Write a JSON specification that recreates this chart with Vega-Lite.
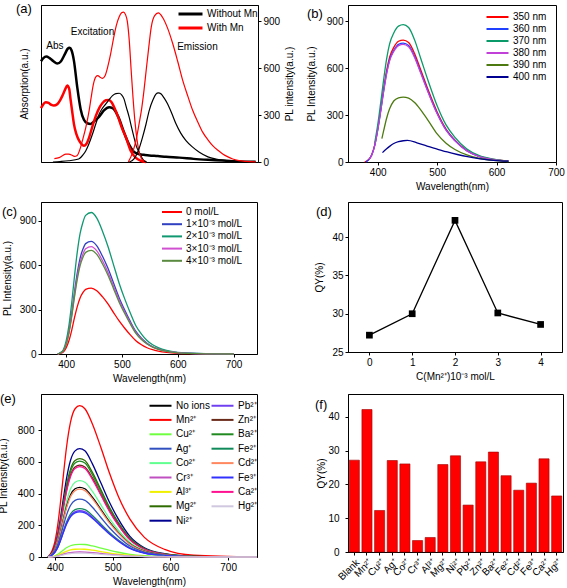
{
"$schema":"https://vega.github.io/schema/vega-lite/v6.json",
"padding":{"left":-3,"top":2,"right":0,"bottom":0},
"background":"white",
"config":{
 "font":"Liberation Sans",
 "view":{"stroke":"black","strokeWidth":1},
 "axis":{"domainColor":"black","tickColor":"black","labelColor":"black","titleColor":"black","labelFont":"Liberation Sans","titleFont":"Liberation Sans","labelFontSize":10,"titleFontSize":10,"titleFontWeight":"normal","grid":false,"tickSize":3,"labelPadding":2,"labelFlush":false,"titlePadding":4},
 "legend":{"labelFont":"Liberation Sans","labelFontSize":10,"labelColor":"black","title":null,"symbolType":"M-2,0H2","symbolStrokeWidth":2,"orient":"none","padding":0,"rowPadding":1,"symbolOffset":6,"labelOffset":9},
 "title":{"font":"Liberation Sans","fontSize":13,"fontWeight":"normal","anchor":"start","frame":"group","baseline":"middle","color":"black","offset":0},
 "line":{"interpolate":"monotone"}
},
"datasets":{
 "a":[
 {"s":"Without Mn","k":"abs","x":200,"y":645},{"s":"Without Mn","k":"abs","x":205,"y":665},{"s":"Without Mn","k":"abs","x":211,"y":675},{"s":"Without Mn","k":"abs","x":218,"y":665},{"s":"Without Mn","k":"abs","x":226,"y":645},{"s":"Without Mn","k":"abs","x":234,"y":630},{"s":"Without Mn","k":"abs","x":242,"y":645},{"s":"Without Mn","k":"abs","x":250,"y":690},{"s":"Without Mn","k":"abs","x":256,"y":725},{"s":"Without Mn","k":"abs","x":260,"y":731},{"s":"Without Mn","k":"abs","x":264,"y":715},{"s":"Without Mn","k":"abs","x":269,"y":649},{"s":"Without Mn","k":"abs","x":276,"y":479},{"s":"Without Mn","k":"abs","x":283,"y":340},{"s":"Without Mn","k":"abs","x":290,"y":270},{"s":"Without Mn","k":"abs","x":297,"y":248},{"s":"Without Mn","k":"abs","x":304,"y":244},{"s":"Without Mn","k":"abs","x":312,"y":262},{"s":"Without Mn","k":"abs","x":322,"y":290},{"s":"Without Mn","k":"abs","x":332,"y":330},{"s":"Without Mn","k":"abs","x":343,"y":350},{"s":"Without Mn","k":"abs","x":350,"y":345},{"s":"Without Mn","k":"abs","x":356,"y":325},{"s":"Without Mn","k":"abs","x":364,"y":275},{"s":"Without Mn","k":"abs","x":374,"y":190},{"s":"Without Mn","k":"abs","x":385,"y":110},{"s":"Without Mn","k":"abs","x":395,"y":65},{"s":"Without Mn","k":"abs","x":406,"y":50},{"s":"Without Mn","k":"abs","x":416,"y":46},{"s":"Without Mn","k":"abs","x":427,"y":42},{"s":"Without Mn","k":"abs","x":445,"y":38},{"s":"Without Mn","k":"abs","x":462,"y":33},{"s":"Without Mn","k":"abs","x":490,"y":28},{"s":"Without Mn","k":"abs","x":520,"y":20},{"s":"Without Mn","k":"abs","x":550,"y":14},{"s":"Without Mn","k":"abs","x":580,"y":9},{"s":"Without Mn","k":"abs","x":601,"y":5},{"s":"Without Mn","k":"abs","x":630,"y":2},{"s":"Without Mn","k":"abs","x":650,"y":1},
 {"s":"With Mn","k":"abs","x":200,"y":345},{"s":"With Mn","k":"abs","x":205,"y":370},{"s":"With Mn","k":"abs","x":210,"y":383},{"s":"With Mn","k":"abs","x":216,"y":378},{"s":"With Mn","k":"abs","x":222,"y":365},{"s":"With Mn","k":"abs","x":227,"y":361},{"s":"With Mn","k":"abs","x":234,"y":370},{"s":"With Mn","k":"abs","x":240,"y":395},{"s":"With Mn","k":"abs","x":245,"y":425},{"s":"With Mn","k":"abs","x":250,"y":460},{"s":"With Mn","k":"abs","x":255,"y":489},{"s":"With Mn","k":"abs","x":259,"y":470},{"s":"With Mn","k":"abs","x":262,"y":400},{"s":"With Mn","k":"abs","x":266,"y":310},{"s":"With Mn","k":"abs","x":269,"y":244},{"s":"With Mn","k":"abs","x":274,"y":180},{"s":"With Mn","k":"abs","x":280,"y":137},{"s":"With Mn","k":"abs","x":285,"y":115},{"s":"With Mn","k":"abs","x":290,"y":104},{"s":"With Mn","k":"abs","x":295,"y":115},{"s":"With Mn","k":"abs","x":301,"y":158},{"s":"With Mn","k":"abs","x":308,"y":230},{"s":"With Mn","k":"abs","x":315,"y":295},{"s":"With Mn","k":"abs","x":322,"y":345},{"s":"With Mn","k":"abs","x":329,"y":378},{"s":"With Mn","k":"abs","x":336,"y":395},{"s":"With Mn","k":"abs","x":342,"y":397},{"s":"With Mn","k":"abs","x":348,"y":383},{"s":"With Mn","k":"abs","x":355,"y":340},{"s":"With Mn","k":"abs","x":362,"y":286},{"s":"With Mn","k":"abs","x":370,"y":215},{"s":"With Mn","k":"abs","x":378,"y":158},{"s":"With Mn","k":"abs","x":388,"y":72},{"s":"With Mn","k":"abs","x":399,"y":26},{"s":"With Mn","k":"abs","x":409,"y":8},{"s":"With Mn","k":"abs","x":420,"y":0},
 {"s":"Without Mn","k":"exc","x":225,"y":0},{"s":"Without Mn","k":"exc","x":240,"y":3},{"s":"Without Mn","k":"exc","x":258,"y":8},{"s":"Without Mn","k":"exc","x":279,"y":19},{"s":"Without Mn","k":"exc","x":288,"y":45},{"s":"Without Mn","k":"exc","x":294,"y":72},{"s":"Without Mn","k":"exc","x":301,"y":120},{"s":"Without Mn","k":"exc","x":308,"y":179},{"s":"Without Mn","k":"exc","x":315,"y":245},{"s":"Without Mn","k":"exc","x":322,"y":308},{"s":"Without Mn","k":"exc","x":329,"y":345},{"s":"Without Mn","k":"exc","x":336,"y":372},{"s":"Without Mn","k":"exc","x":343,"y":400},{"s":"Without Mn","k":"exc","x":350,"y":425},{"s":"Without Mn","k":"exc","x":357,"y":438},{"s":"Without Mn","k":"exc","x":364,"y":440},{"s":"Without Mn","k":"exc","x":369,"y":430},{"s":"Without Mn","k":"exc","x":374,"y":404},{"s":"Without Mn","k":"exc","x":379,"y":350},{"s":"Without Mn","k":"exc","x":385,"y":286},{"s":"Without Mn","k":"exc","x":390,"y":220},{"s":"Without Mn","k":"exc","x":395,"y":158},{"s":"Without Mn","k":"exc","x":400,"y":100},{"s":"Without Mn","k":"exc","x":406,"y":62},{"s":"Without Mn","k":"exc","x":411,"y":30},{"s":"Without Mn","k":"exc","x":416,"y":8},{"s":"Without Mn","k":"exc","x":422,"y":0},
 {"s":"With Mn","k":"exc","x":228,"y":22},{"s":"With Mn","k":"exc","x":238,"y":28},{"s":"With Mn","k":"exc","x":245,"y":40},{"s":"With Mn","k":"exc","x":252,"y":51},{"s":"With Mn","k":"exc","x":258,"y":50},{"s":"With Mn","k":"exc","x":264,"y":45},{"s":"With Mn","k":"exc","x":270,"y":36},{"s":"With Mn","k":"exc","x":276,"y":42},{"s":"With Mn","k":"exc","x":283,"y":94},{"s":"With Mn","k":"exc","x":288,"y":150},{"s":"With Mn","k":"exc","x":294,"y":222},{"s":"With Mn","k":"exc","x":301,"y":330},{"s":"With Mn","k":"exc","x":305,"y":410},{"s":"With Mn","k":"exc","x":310,"y":500},{"s":"With Mn","k":"exc","x":315,"y":545},{"s":"With Mn","k":"exc","x":319,"y":553},{"s":"With Mn","k":"exc","x":324,"y":543},{"s":"With Mn","k":"exc","x":329,"y":535},{"s":"With Mn","k":"exc","x":334,"y":550},{"s":"With Mn","k":"exc","x":340,"y":610},{"s":"With Mn","k":"exc","x":346,"y":692},{"s":"With Mn","k":"exc","x":352,"y":790},{"s":"With Mn","k":"exc","x":358,"y":875},{"s":"With Mn","k":"exc","x":364,"y":930},{"s":"With Mn","k":"exc","x":369,"y":955},{"s":"With Mn","k":"exc","x":373,"y":960},{"s":"With Mn","k":"exc","x":377,"y":945},{"s":"With Mn","k":"exc","x":381,"y":900},{"s":"With Mn","k":"exc","x":385,"y":780},{"s":"With Mn","k":"exc","x":389,"y":590},{"s":"With Mn","k":"exc","x":393,"y":410},{"s":"With Mn","k":"exc","x":397,"y":260},{"s":"With Mn","k":"exc","x":401,"y":150},{"s":"With Mn","k":"exc","x":405,"y":75},{"s":"With Mn","k":"exc","x":410,"y":25},{"s":"With Mn","k":"exc","x":416,"y":4},
 {"s":"Without Mn","k":"em","x":385,"y":0},{"s":"Without Mn","k":"em","x":395,"y":20},{"s":"Without Mn","k":"em","x":405,"y":80},{"s":"Without Mn","k":"em","x":413,"y":159},{"s":"Without Mn","k":"em","x":420,"y":240},{"s":"Without Mn","k":"em","x":427,"y":331},{"s":"Without Mn","k":"em","x":435,"y":400},{"s":"Without Mn","k":"em","x":441,"y":435},{"s":"Without Mn","k":"em","x":446,"y":443},{"s":"Without Mn","k":"em","x":452,"y":435},{"s":"Without Mn","k":"em","x":458,"y":410},{"s":"Without Mn","k":"em","x":465,"y":374},{"s":"Without Mn","k":"em","x":475,"y":305},{"s":"Without Mn","k":"em","x":483,"y":245},{"s":"Without Mn","k":"em","x":493,"y":185},{"s":"Without Mn","k":"em","x":504,"y":137},{"s":"Without Mn","k":"em","x":518,"y":95},{"s":"Without Mn","k":"em","x":532,"y":62},{"s":"Without Mn","k":"em","x":550,"y":33},{"s":"Without Mn","k":"em","x":567,"y":19},{"s":"Without Mn","k":"em","x":585,"y":10},{"s":"Without Mn","k":"em","x":602,"y":5},{"s":"Without Mn","k":"em","x":630,"y":1},{"s":"Without Mn","k":"em","x":650,"y":0},
 {"s":"With Mn","k":"em","x":383,"y":0},{"s":"With Mn","k":"em","x":392,"y":60},{"s":"With Mn","k":"em","x":400,"y":150},{"s":"With Mn","k":"em","x":406,"y":250},{"s":"With Mn","k":"em","x":411,"y":340},{"s":"With Mn","k":"em","x":416,"y":460},{"s":"With Mn","k":"em","x":421,"y":600},{"s":"With Mn","k":"em","x":426,"y":735},{"s":"With Mn","k":"em","x":431,"y":860},{"s":"With Mn","k":"em","x":438,"y":935},{"s":"With Mn","k":"em","x":446,"y":954},{"s":"With Mn","k":"em","x":455,"y":925},{"s":"With Mn","k":"em","x":465,"y":860},{"s":"With Mn","k":"em","x":476,"y":760},{"s":"With Mn","k":"em","x":487,"y":640},{"s":"With Mn","k":"em","x":497,"y":524},{"s":"With Mn","k":"em","x":508,"y":420},{"s":"With Mn","k":"em","x":518,"y":331},{"s":"With Mn","k":"em","x":529,"y":255},{"s":"With Mn","k":"em","x":539,"y":191},{"s":"With Mn","k":"em","x":550,"y":142},{"s":"With Mn","k":"em","x":560,"y":105},{"s":"With Mn","k":"em","x":571,"y":75},{"s":"With Mn","k":"em","x":581,"y":52},{"s":"With Mn","k":"em","x":592,"y":33},{"s":"With Mn","k":"em","x":602,"y":19},{"s":"With Mn","k":"em","x":615,"y":9},{"s":"With Mn","k":"em","x":630,"y":4},{"s":"With Mn","k":"em","x":650,"y":1}
 ],
 "ann":[{"t":"Abs","x":229,"y":745},{"t":"Excitation","x":308,"y":830},{"t":"Emission","x":528,"y":735}],
 "b":[
 {"s":"350 nm","x":378,"y":0},{"s":"350 nm","x":385,"y":16},{"s":"350 nm","x":390,"y":47},{"s":"350 nm","x":395,"y":109},{"s":"350 nm","x":400,"y":211},{"s":"350 nm","x":405,"y":335},{"s":"350 nm","x":410,"y":468},{"s":"350 nm","x":415,"y":585},{"s":"350 nm","x":420,"y":671},{"s":"350 nm","x":427,"y":733},{"s":"350 nm","x":435,"y":772},{"s":"350 nm","x":443,"y":780},{"s":"350 nm","x":452,"y":764},{"s":"350 nm","x":462,"y":694},{"s":"350 nm","x":472,"y":593},{"s":"350 nm","x":485,"y":460},{"s":"350 nm","x":500,"y":320},{"s":"350 nm","x":515,"y":211},{"s":"350 nm","x":530,"y":140},{"s":"350 nm","x":550,"y":74},{"s":"350 nm","x":570,"y":37},{"s":"350 nm","x":595,"y":16},{"s":"350 nm","x":620,"y":5},
 {"s":"360 nm","x":380,"y":0},{"s":"360 nm","x":385,"y":15},{"s":"360 nm","x":390,"y":46},{"s":"360 nm","x":395,"y":106},{"s":"360 nm","x":400,"y":205},{"s":"360 nm","x":405,"y":327},{"s":"360 nm","x":410,"y":456},{"s":"360 nm","x":415,"y":570},{"s":"360 nm","x":420,"y":654},{"s":"360 nm","x":427,"y":714},{"s":"360 nm","x":435,"y":752},{"s":"360 nm","x":443,"y":760},{"s":"360 nm","x":452,"y":745},{"s":"360 nm","x":462,"y":676},{"s":"360 nm","x":472,"y":578},{"s":"360 nm","x":485,"y":448},{"s":"360 nm","x":500,"y":312},{"s":"360 nm","x":515,"y":205},{"s":"360 nm","x":530,"y":137},{"s":"360 nm","x":550,"y":72},{"s":"360 nm","x":570,"y":36},{"s":"360 nm","x":595,"y":15},{"s":"360 nm","x":620,"y":5},
 {"s":"370 nm","x":395,"y":123},{"s":"370 nm","x":400,"y":237},{"s":"370 nm","x":405,"y":378},{"s":"370 nm","x":410,"y":527},{"s":"370 nm","x":415,"y":659},{"s":"370 nm","x":420,"y":755},{"s":"370 nm","x":427,"y":825},{"s":"370 nm","x":435,"y":869},{"s":"370 nm","x":443,"y":878},{"s":"370 nm","x":452,"y":860},{"s":"370 nm","x":462,"y":781},{"s":"370 nm","x":472,"y":667},{"s":"370 nm","x":485,"y":518},{"s":"370 nm","x":500,"y":360},{"s":"370 nm","x":515,"y":237},{"s":"370 nm","x":530,"y":158},{"s":"370 nm","x":550,"y":83},{"s":"370 nm","x":570,"y":42},{"s":"370 nm","x":595,"y":18},{"s":"370 nm","x":620,"y":6},
 {"s":"380 nm","x":385,"y":15},{"s":"380 nm","x":390,"y":45},{"s":"380 nm","x":395,"y":105},{"s":"380 nm","x":400,"y":203},{"s":"380 nm","x":405,"y":323},{"s":"380 nm","x":410,"y":451},{"s":"380 nm","x":415,"y":564},{"s":"380 nm","x":420,"y":647},{"s":"380 nm","x":427,"y":707},{"s":"380 nm","x":435,"y":744},{"s":"380 nm","x":443,"y":752},{"s":"380 nm","x":452,"y":737},{"s":"380 nm","x":462,"y":669},{"s":"380 nm","x":472,"y":572},{"s":"380 nm","x":485,"y":444},{"s":"380 nm","x":500,"y":308},{"s":"380 nm","x":515,"y":203},{"s":"380 nm","x":530,"y":135},{"s":"380 nm","x":550,"y":71},{"s":"380 nm","x":570,"y":36},{"s":"380 nm","x":595,"y":15},{"s":"380 nm","x":620,"y":5},
 {"s":"390 nm","x":407,"y":150},{"s":"390 nm","x":410,"y":200},{"s":"390 nm","x":415,"y":280},{"s":"390 nm","x":420,"y":340},{"s":"390 nm","x":427,"y":390},{"s":"390 nm","x":435,"y":410},{"s":"390 nm","x":443,"y":415},{"s":"390 nm","x":452,"y":408},{"s":"390 nm","x":462,"y":380},{"s":"390 nm","x":472,"y":335},{"s":"390 nm","x":485,"y":265},{"s":"390 nm","x":500,"y":180},{"s":"390 nm","x":515,"y":120},{"s":"390 nm","x":530,"y":80},{"s":"390 nm","x":550,"y":45},{"s":"390 nm","x":570,"y":24},{"s":"390 nm","x":595,"y":10},{"s":"390 nm","x":620,"y":3},
 {"s":"400 nm","x":408,"y":60},{"s":"400 nm","x":415,"y":85},{"s":"400 nm","x":420,"y":100},{"s":"400 nm","x":427,"y":118},{"s":"400 nm","x":435,"y":130},{"s":"400 nm","x":443,"y":136},{"s":"400 nm","x":450,"y":138},{"s":"400 nm","x":466,"y":123},{"s":"400 nm","x":483,"y":102},{"s":"400 nm","x":500,"y":83},{"s":"400 nm","x":517,"y":64},{"s":"400 nm","x":534,"y":48},{"s":"400 nm","x":551,"y":34},{"s":"400 nm","x":570,"y":22},{"s":"400 nm","x":595,"y":11},{"s":"400 nm","x":620,"y":5}
 ],
 "c":[
 {"s":"0 mol/L","x":385,"y":0},{"s":"0 mol/L","x":390,"y":4},{"s":"0 mol/L","x":395,"y":13},{"s":"0 mol/L","x":400,"y":40},{"s":"0 mol/L","x":405,"y":89},{"s":"0 mol/L","x":410,"y":160},{"s":"0 mol/L","x":415,"y":245},{"s":"0 mol/L","x":420,"y":320},{"s":"0 mol/L","x":425,"y":378},{"s":"0 mol/L","x":430,"y":414},{"s":"0 mol/L","x":435,"y":436},{"s":"0 mol/L","x":445,"y":445},{"s":"0 mol/L","x":455,"y":427},{"s":"0 mol/L","x":465,"y":387},{"s":"0 mol/L","x":475,"y":338},{"s":"0 mol/L","x":485,"y":280},{"s":"0 mol/L","x":495,"y":223},{"s":"0 mol/L","x":505,"y":174},{"s":"0 mol/L","x":515,"y":129},{"s":"0 mol/L","x":525,"y":89},{"s":"0 mol/L","x":535,"y":62},{"s":"0 mol/L","x":545,"y":42},{"s":"0 mol/L","x":555,"y":29},{"s":"0 mol/L","x":565,"y":20},{"s":"0 mol/L","x":580,"y":11},{"s":"0 mol/L","x":600,"y":5},{"s":"0 mol/L","x":620,"y":3},{"s":"0 mol/L","x":650,"y":1},{"s":"0 mol/L","x":700,"y":0},
 {"s":"1×10⁻³ mol/L","x":385,"y":0},{"s":"1×10⁻³ mol/L","x":390,"y":8},{"s":"1×10⁻³ mol/L","x":395,"y":23},{"s":"1×10⁻³ mol/L","x":400,"y":68},{"s":"1×10⁻³ mol/L","x":405,"y":152},{"s":"1×10⁻³ mol/L","x":410,"y":274},{"s":"1×10⁻³ mol/L","x":415,"y":418},{"s":"1×10⁻³ mol/L","x":420,"y":547},{"s":"1×10⁻³ mol/L","x":425,"y":646},{"s":"1×10⁻³ mol/L","x":430,"y":707},{"s":"1×10⁻³ mol/L","x":435,"y":745},{"s":"1×10⁻³ mol/L","x":445,"y":760},{"s":"1×10⁻³ mol/L","x":455,"y":730},{"s":"1×10⁻³ mol/L","x":465,"y":661},{"s":"1×10⁻³ mol/L","x":475,"y":578},{"s":"1×10⁻³ mol/L","x":485,"y":479},{"s":"1×10⁻³ mol/L","x":495,"y":380},{"s":"1×10⁻³ mol/L","x":505,"y":296},{"s":"1×10⁻³ mol/L","x":515,"y":220},{"s":"1×10⁻³ mol/L","x":525,"y":152},{"s":"1×10⁻³ mol/L","x":535,"y":106},{"s":"1×10⁻³ mol/L","x":545,"y":72},{"s":"1×10⁻³ mol/L","x":555,"y":49},{"s":"1×10⁻³ mol/L","x":565,"y":34},{"s":"1×10⁻³ mol/L","x":580,"y":19},{"s":"1×10⁻³ mol/L","x":600,"y":9},{"s":"1×10⁻³ mol/L","x":620,"y":5},{"s":"1×10⁻³ mol/L","x":650,"y":2},{"s":"1×10⁻³ mol/L","x":700,"y":0},
 {"s":"2×10⁻³ mol/L","x":385,"y":0},{"s":"2×10⁻³ mol/L","x":390,"y":10},{"s":"2×10⁻³ mol/L","x":395,"y":29},{"s":"2×10⁻³ mol/L","x":400,"y":86},{"s":"2×10⁻³ mol/L","x":405,"y":191},{"s":"2×10⁻³ mol/L","x":410,"y":344},{"s":"2×10⁻³ mol/L","x":415,"y":525},{"s":"2×10⁻³ mol/L","x":420,"y":688},{"s":"2×10⁻³ mol/L","x":425,"y":812},{"s":"2×10⁻³ mol/L","x":430,"y":888},{"s":"2×10⁻³ mol/L","x":435,"y":936},{"s":"2×10⁻³ mol/L","x":445,"y":955},{"s":"2×10⁻³ mol/L","x":455,"y":917},{"s":"2×10⁻³ mol/L","x":465,"y":831},{"s":"2×10⁻³ mol/L","x":475,"y":726},{"s":"2×10⁻³ mol/L","x":485,"y":602},{"s":"2×10⁻³ mol/L","x":495,"y":478},{"s":"2×10⁻³ mol/L","x":505,"y":372},{"s":"2×10⁻³ mol/L","x":515,"y":277},{"s":"2×10⁻³ mol/L","x":525,"y":191},{"s":"2×10⁻³ mol/L","x":535,"y":134},{"s":"2×10⁻³ mol/L","x":545,"y":91},{"s":"2×10⁻³ mol/L","x":555,"y":62},{"s":"2×10⁻³ mol/L","x":565,"y":43},{"s":"2×10⁻³ mol/L","x":580,"y":24},{"s":"2×10⁻³ mol/L","x":600,"y":11},{"s":"2×10⁻³ mol/L","x":620,"y":6},{"s":"2×10⁻³ mol/L","x":650,"y":2},{"s":"2×10⁻³ mol/L","x":700,"y":0},
 {"s":"3×10⁻³ mol/L","x":385,"y":0},{"s":"3×10⁻³ mol/L","x":390,"y":7},{"s":"3×10⁻³ mol/L","x":395,"y":22},{"s":"3×10⁻³ mol/L","x":400,"y":65},{"s":"3×10⁻³ mol/L","x":405,"y":145},{"s":"3×10⁻³ mol/L","x":410,"y":261},{"s":"3×10⁻³ mol/L","x":415,"y":399},{"s":"3×10⁻³ mol/L","x":420,"y":522},{"s":"3×10⁻³ mol/L","x":425,"y":616},{"s":"3×10⁻³ mol/L","x":430,"y":674},{"s":"3×10⁻³ mol/L","x":435,"y":711},{"s":"3×10⁻³ mol/L","x":445,"y":725},{"s":"3×10⁻³ mol/L","x":455,"y":696},{"s":"3×10⁻³ mol/L","x":465,"y":631},{"s":"3×10⁻³ mol/L","x":475,"y":551},{"s":"3×10⁻³ mol/L","x":485,"y":457},{"s":"3×10⁻³ mol/L","x":495,"y":363},{"s":"3×10⁻³ mol/L","x":505,"y":283},{"s":"3×10⁻³ mol/L","x":515,"y":210},{"s":"3×10⁻³ mol/L","x":525,"y":145},{"s":"3×10⁻³ mol/L","x":535,"y":102},{"s":"3×10⁻³ mol/L","x":545,"y":69},{"s":"3×10⁻³ mol/L","x":555,"y":47},{"s":"3×10⁻³ mol/L","x":565,"y":33},{"s":"3×10⁻³ mol/L","x":580,"y":18},{"s":"3×10⁻³ mol/L","x":600,"y":9},{"s":"3×10⁻³ mol/L","x":620,"y":4},{"s":"3×10⁻³ mol/L","x":650,"y":1},{"s":"3×10⁻³ mol/L","x":700,"y":0},
 {"s":"4×10⁻³ mol/L","x":385,"y":0},{"s":"4×10⁻³ mol/L","x":390,"y":7},{"s":"4×10⁻³ mol/L","x":395,"y":21},{"s":"4×10⁻³ mol/L","x":400,"y":63},{"s":"4×10⁻³ mol/L","x":405,"y":140},{"s":"4×10⁻³ mol/L","x":410,"y":252},{"s":"4×10⁻³ mol/L","x":415,"y":385},{"s":"4×10⁻³ mol/L","x":420,"y":504},{"s":"4×10⁻³ mol/L","x":425,"y":595},{"s":"4×10⁻³ mol/L","x":430,"y":651},{"s":"4×10⁻³ mol/L","x":435,"y":686},{"s":"4×10⁻³ mol/L","x":445,"y":700},{"s":"4×10⁻³ mol/L","x":455,"y":672},{"s":"4×10⁻³ mol/L","x":465,"y":609},{"s":"4×10⁻³ mol/L","x":475,"y":532},{"s":"4×10⁻³ mol/L","x":485,"y":441},{"s":"4×10⁻³ mol/L","x":495,"y":350},{"s":"4×10⁻³ mol/L","x":505,"y":273},{"s":"4×10⁻³ mol/L","x":515,"y":203},{"s":"4×10⁻³ mol/L","x":525,"y":140},{"s":"4×10⁻³ mol/L","x":535,"y":98},{"s":"4×10⁻³ mol/L","x":545,"y":67},{"s":"4×10⁻³ mol/L","x":555,"y":46},{"s":"4×10⁻³ mol/L","x":565,"y":32},{"s":"4×10⁻³ mol/L","x":580,"y":18},{"s":"4×10⁻³ mol/L","x":600,"y":8},{"s":"4×10⁻³ mol/L","x":620,"y":4},{"s":"4×10⁻³ mol/L","x":650,"y":1},{"s":"4×10⁻³ mol/L","x":700,"y":0}
 ],
 "d":[{"x":0,"y":27.2},{"x":1,"y":30.0},{"x":2,"y":42.2},{"x":3,"y":30.1},{"x":4,"y":28.6}],
 "e":[
 {"s":"Mn²⁺","x":388,"y":0},{"s":"Mn²⁺","x":395,"y":38},{"s":"Mn²⁺","x":400,"y":96},{"s":"Mn²⁺","x":405,"y":201},{"s":"Mn²⁺","x":410,"y":353},{"s":"Mn²⁺","x":415,"y":525},{"s":"Mn²⁺","x":420,"y":688},{"s":"Mn²⁺","x":427,"y":850},{"s":"Mn²⁺","x":435,"y":936},{"s":"Mn²⁺","x":443,"y":955},{"s":"Mn²⁺","x":452,"y":936},{"s":"Mn²⁺","x":465,"y":840},{"s":"Mn²⁺","x":480,"y":688},{"s":"Mn²⁺","x":495,"y":525},{"s":"Mn²⁺","x":510,"y":382},{"s":"Mn²⁺","x":530,"y":239},{"s":"Mn²⁺","x":555,"y":124},{"s":"Mn²⁺","x":590,"y":48},{"s":"Mn²⁺","x":640,"y":11},{"s":"Mn²⁺","x":750,"y":0},
 {"s":"Ni²⁺","x":388,"y":0},{"s":"Ni²⁺","x":395,"y":27},{"s":"Ni²⁺","x":400,"y":68},{"s":"Ni²⁺","x":405,"y":144},{"s":"Ni²⁺","x":410,"y":253},{"s":"Ni²⁺","x":415,"y":376},{"s":"Ni²⁺","x":420,"y":492},{"s":"Ni²⁺","x":427,"y":609},{"s":"Ni²⁺","x":435,"y":670},{"s":"Ni²⁺","x":443,"y":684},{"s":"Ni²⁺","x":452,"y":670},{"s":"Ni²⁺","x":465,"y":588},{"s":"Ni²⁺","x":480,"y":465},{"s":"Ni²⁺","x":495,"y":342},{"s":"Ni²⁺","x":510,"y":239},{"s":"Ni²⁺","x":530,"y":130},{"s":"Ni²⁺","x":555,"y":58},{"s":"Ni²⁺","x":590,"y":21},{"s":"Ni²⁺","x":640,"y":4},{"s":"Ni²⁺","x":750,"y":0},
 {"s":"Mg²⁺","x":388,"y":0},{"s":"Mg²⁺","x":395,"y":25},{"s":"Mg²⁺","x":400,"y":62},{"s":"Mg²⁺","x":405,"y":130},{"s":"Mg²⁺","x":410,"y":230},{"s":"Mg²⁺","x":415,"y":342},{"s":"Mg²⁺","x":420,"y":447},{"s":"Mg²⁺","x":427,"y":553},{"s":"Mg²⁺","x":435,"y":609},{"s":"Mg²⁺","x":443,"y":621},{"s":"Mg²⁺","x":452,"y":609},{"s":"Mg²⁺","x":465,"y":534},{"s":"Mg²⁺","x":480,"y":422},{"s":"Mg²⁺","x":495,"y":311},{"s":"Mg²⁺","x":510,"y":217},{"s":"Mg²⁺","x":530,"y":118},{"s":"Mg²⁺","x":555,"y":53},{"s":"Mg²⁺","x":590,"y":19},{"s":"Mg²⁺","x":640,"y":4},{"s":"Mg²⁺","x":750,"y":0},
 {"s":"Ba²⁺","x":388,"y":0},{"s":"Ba²⁺","x":395,"y":24},{"s":"Ba²⁺","x":400,"y":61},{"s":"Ba²⁺","x":405,"y":127},{"s":"Ba²⁺","x":410,"y":224},{"s":"Ba²⁺","x":415,"y":333},{"s":"Ba²⁺","x":420,"y":436},{"s":"Ba²⁺","x":427,"y":538},{"s":"Ba²⁺","x":435,"y":593},{"s":"Ba²⁺","x":443,"y":605},{"s":"Ba²⁺","x":452,"y":593},{"s":"Ba²⁺","x":465,"y":520},{"s":"Ba²⁺","x":480,"y":411},{"s":"Ba²⁺","x":495,"y":303},{"s":"Ba²⁺","x":510,"y":212},{"s":"Ba²⁺","x":530,"y":115},{"s":"Ba²⁺","x":555,"y":51},{"s":"Ba²⁺","x":590,"y":18},{"s":"Ba²⁺","x":640,"y":4},{"s":"Ba²⁺","x":750,"y":0},
 {"s":"Zn²⁺","x":388,"y":0},{"s":"Zn²⁺","x":395,"y":23},{"s":"Zn²⁺","x":400,"y":58},{"s":"Zn²⁺","x":405,"y":122},{"s":"Zn²⁺","x":410,"y":215},{"s":"Zn²⁺","x":415,"y":319},{"s":"Zn²⁺","x":420,"y":418},{"s":"Zn²⁺","x":427,"y":516},{"s":"Zn²⁺","x":435,"y":568},{"s":"Zn²⁺","x":443,"y":580},{"s":"Zn²⁺","x":452,"y":568},{"s":"Zn²⁺","x":465,"y":499},{"s":"Zn²⁺","x":480,"y":394},{"s":"Zn²⁺","x":495,"y":290},{"s":"Zn²⁺","x":510,"y":203},{"s":"Zn²⁺","x":530,"y":110},{"s":"Zn²⁺","x":555,"y":49},{"s":"Zn²⁺","x":590,"y":17},{"s":"Zn²⁺","x":640,"y":3},{"s":"Zn²⁺","x":750,"y":0},
 {"s":"Ca²⁺","x":388,"y":0},{"s":"Ca²⁺","x":395,"y":23},{"s":"Ca²⁺","x":400,"y":57},{"s":"Ca²⁺","x":405,"y":120},{"s":"Ca²⁺","x":410,"y":211},{"s":"Ca²⁺","x":415,"y":314},{"s":"Ca²⁺","x":420,"y":410},{"s":"Ca²⁺","x":427,"y":507},{"s":"Ca²⁺","x":435,"y":559},{"s":"Ca²⁺","x":443,"y":570},{"s":"Ca²⁺","x":452,"y":559},{"s":"Ca²⁺","x":465,"y":490},{"s":"Ca²⁺","x":480,"y":388},{"s":"Ca²⁺","x":495,"y":285},{"s":"Ca²⁺","x":510,"y":200},{"s":"Ca²⁺","x":530,"y":108},{"s":"Ca²⁺","x":555,"y":48},{"s":"Ca²⁺","x":590,"y":17},{"s":"Ca²⁺","x":640,"y":3},{"s":"Ca²⁺","x":750,"y":0},
 {"s":"Co²⁺","x":388,"y":0},{"s":"Co²⁺","x":395,"y":19},{"s":"Co²⁺","x":400,"y":48},{"s":"Co²⁺","x":405,"y":101},{"s":"Co²⁺","x":410,"y":178},{"s":"Co²⁺","x":415,"y":265},{"s":"Co²⁺","x":420,"y":347},{"s":"Co²⁺","x":427,"y":429},{"s":"Co²⁺","x":435,"y":472},{"s":"Co²⁺","x":443,"y":482},{"s":"Co²⁺","x":452,"y":472},{"s":"Co²⁺","x":465,"y":415},{"s":"Co²⁺","x":480,"y":328},{"s":"Co²⁺","x":495,"y":241},{"s":"Co²⁺","x":510,"y":169},{"s":"Co²⁺","x":530,"y":92},{"s":"Co²⁺","x":555,"y":41},{"s":"Co²⁺","x":590,"y":14},{"s":"Co²⁺","x":640,"y":3},{"s":"Co²⁺","x":750,"y":0},
 {"s":"No ions","x":388,"y":0},{"s":"No ions","x":395,"y":18},{"s":"No ions","x":400,"y":44},{"s":"No ions","x":405,"y":92},{"s":"No ions","x":410,"y":163},{"s":"No ions","x":415,"y":242},{"s":"No ions","x":420,"y":317},{"s":"No ions","x":427,"y":392},{"s":"No ions","x":435,"y":431},{"s":"No ions","x":443,"y":440},{"s":"No ions","x":452,"y":431},{"s":"No ions","x":465,"y":378},{"s":"No ions","x":480,"y":299},{"s":"No ions","x":495,"y":220},{"s":"No ions","x":510,"y":154},{"s":"No ions","x":530,"y":84},{"s":"No ions","x":555,"y":37},{"s":"No ions","x":590,"y":13},{"s":"No ions","x":640,"y":3},{"s":"No ions","x":750,"y":0},
 {"s":"Cd²⁺","x":388,"y":0},{"s":"Cd²⁺","x":395,"y":17},{"s":"Cd²⁺","x":400,"y":43},{"s":"Cd²⁺","x":405,"y":90},{"s":"Cd²⁺","x":410,"y":158},{"s":"Cd²⁺","x":415,"y":235},{"s":"Cd²⁺","x":420,"y":308},{"s":"Cd²⁺","x":427,"y":381},{"s":"Cd²⁺","x":435,"y":419},{"s":"Cd²⁺","x":443,"y":428},{"s":"Cd²⁺","x":452,"y":419},{"s":"Cd²⁺","x":465,"y":368},{"s":"Cd²⁺","x":480,"y":291},{"s":"Cd²⁺","x":495,"y":214},{"s":"Cd²⁺","x":510,"y":150},{"s":"Cd²⁺","x":530,"y":81},{"s":"Cd²⁺","x":555,"y":36},{"s":"Cd²⁺","x":590,"y":13},{"s":"Cd²⁺","x":640,"y":3},{"s":"Cd²⁺","x":750,"y":0},
 {"s":"Ag⁺","x":388,"y":0},{"s":"Ag⁺","x":395,"y":15},{"s":"Ag⁺","x":400,"y":37},{"s":"Ag⁺","x":405,"y":77},{"s":"Ag⁺","x":410,"y":135},{"s":"Ag⁺","x":415,"y":201},{"s":"Ag⁺","x":420,"y":263},{"s":"Ag⁺","x":427,"y":325},{"s":"Ag⁺","x":435,"y":358},{"s":"Ag⁺","x":443,"y":365},{"s":"Ag⁺","x":452,"y":358},{"s":"Ag⁺","x":465,"y":314},{"s":"Ag⁺","x":480,"y":248},{"s":"Ag⁺","x":495,"y":183},{"s":"Ag⁺","x":510,"y":128},{"s":"Ag⁺","x":530,"y":69},{"s":"Ag⁺","x":555,"y":31},{"s":"Ag⁺","x":590,"y":11},{"s":"Ag⁺","x":640,"y":2},{"s":"Ag⁺","x":750,"y":0},
 {"s":"Fe²⁺","x":388,"y":0},{"s":"Fe²⁺","x":395,"y":12},{"s":"Fe²⁺","x":400,"y":31},{"s":"Fe²⁺","x":405,"y":64},{"s":"Fe²⁺","x":410,"y":113},{"s":"Fe²⁺","x":415,"y":168},{"s":"Fe²⁺","x":420,"y":220},{"s":"Fe²⁺","x":427,"y":271},{"s":"Fe²⁺","x":435,"y":299},{"s":"Fe²⁺","x":443,"y":305},{"s":"Fe²⁺","x":452,"y":299},{"s":"Fe²⁺","x":465,"y":262},{"s":"Fe²⁺","x":480,"y":207},{"s":"Fe²⁺","x":495,"y":153},{"s":"Fe²⁺","x":510,"y":107},{"s":"Fe²⁺","x":530,"y":58},{"s":"Fe²⁺","x":555,"y":26},{"s":"Fe²⁺","x":590,"y":9},{"s":"Fe²⁺","x":640,"y":2},{"s":"Fe²⁺","x":750,"y":0},
 {"s":"Pb²⁺","x":388,"y":0},{"s":"Pb²⁺","x":395,"y":12},{"s":"Pb²⁺","x":400,"y":29},{"s":"Pb²⁺","x":405,"y":61},{"s":"Pb²⁺","x":410,"y":108},{"s":"Pb²⁺","x":415,"y":161},{"s":"Pb²⁺","x":420,"y":210},{"s":"Pb²⁺","x":427,"y":260},{"s":"Pb²⁺","x":435,"y":286},{"s":"Pb²⁺","x":443,"y":292},{"s":"Pb²⁺","x":452,"y":286},{"s":"Pb²⁺","x":465,"y":251},{"s":"Pb²⁺","x":480,"y":199},{"s":"Pb²⁺","x":495,"y":146},{"s":"Pb²⁺","x":510,"y":102},{"s":"Pb²⁺","x":530,"y":55},{"s":"Pb²⁺","x":555,"y":25},{"s":"Pb²⁺","x":590,"y":9},{"s":"Pb²⁺","x":640,"y":2},{"s":"Pb²⁺","x":750,"y":0},
 {"s":"Fe³⁺","x":388,"y":0},{"s":"Fe³⁺","x":395,"y":11},{"s":"Fe³⁺","x":400,"y":29},{"s":"Fe³⁺","x":405,"y":60},{"s":"Fe³⁺","x":410,"y":105},{"s":"Fe³⁺","x":415,"y":157},{"s":"Fe³⁺","x":420,"y":205},{"s":"Fe³⁺","x":427,"y":254},{"s":"Fe³⁺","x":435,"y":279},{"s":"Fe³⁺","x":443,"y":285},{"s":"Fe³⁺","x":452,"y":279},{"s":"Fe³⁺","x":465,"y":245},{"s":"Fe³⁺","x":480,"y":194},{"s":"Fe³⁺","x":495,"y":143},{"s":"Fe³⁺","x":510,"y":100},{"s":"Fe³⁺","x":530,"y":54},{"s":"Fe³⁺","x":555,"y":24},{"s":"Fe³⁺","x":590,"y":9},{"s":"Fe³⁺","x":640,"y":2},{"s":"Fe³⁺","x":750,"y":0},
 {"s":"Cu²⁺","x":388,"y":0},{"s":"Cu²⁺","x":395,"y":3},{"s":"Cu²⁺","x":400,"y":8},{"s":"Cu²⁺","x":405,"y":17},{"s":"Cu²⁺","x":410,"y":30},{"s":"Cu²⁺","x":415,"y":44},{"s":"Cu²⁺","x":420,"y":58},{"s":"Cu²⁺","x":427,"y":71},{"s":"Cu²⁺","x":435,"y":78},{"s":"Cu²⁺","x":443,"y":80},{"s":"Cu²⁺","x":452,"y":79},{"s":"Cu²⁺","x":465,"y":70},{"s":"Cu²⁺","x":480,"y":56},{"s":"Cu²⁺","x":495,"y":42},{"s":"Cu²⁺","x":510,"y":30},{"s":"Cu²⁺","x":530,"y":17},{"s":"Cu²⁺","x":555,"y":8},{"s":"Cu²⁺","x":590,"y":3},{"s":"Cu²⁺","x":640,"y":1},{"s":"Cu²⁺","x":750,"y":0},
 {"s":"Al³⁺","x":388,"y":0},{"s":"Al³⁺","x":395,"y":2},{"s":"Al³⁺","x":400,"y":5},{"s":"Al³⁺","x":405,"y":11},{"s":"Al³⁺","x":410,"y":19},{"s":"Al³⁺","x":415,"y":28},{"s":"Al³⁺","x":420,"y":36},{"s":"Al³⁺","x":427,"y":45},{"s":"Al³⁺","x":435,"y":49},{"s":"Al³⁺","x":443,"y":50},{"s":"Al³⁺","x":452,"y":49},{"s":"Al³⁺","x":465,"y":43},{"s":"Al³⁺","x":480,"y":34},{"s":"Al³⁺","x":495,"y":25},{"s":"Al³⁺","x":510,"y":18},{"s":"Al³⁺","x":530,"y":10},{"s":"Al³⁺","x":555,"y":4},{"s":"Al³⁺","x":590,"y":2},{"s":"Al³⁺","x":640,"y":0},{"s":"Al³⁺","x":750,"y":0},
 {"s":"Cr³⁺","x":388,"y":0},{"s":"Cr³⁺","x":395,"y":1},{"s":"Cr³⁺","x":400,"y":3},{"s":"Cr³⁺","x":405,"y":7},{"s":"Cr³⁺","x":410,"y":12},{"s":"Cr³⁺","x":415,"y":18},{"s":"Cr³⁺","x":420,"y":23},{"s":"Cr³⁺","x":427,"y":28},{"s":"Cr³⁺","x":435,"y":31},{"s":"Cr³⁺","x":443,"y":32},{"s":"Cr³⁺","x":452,"y":31},{"s":"Cr³⁺","x":465,"y":28},{"s":"Cr³⁺","x":480,"y":22},{"s":"Cr³⁺","x":495,"y":16},{"s":"Cr³⁺","x":510,"y":11},{"s":"Cr³⁺","x":530,"y":6},{"s":"Cr³⁺","x":555,"y":3},{"s":"Cr³⁺","x":590,"y":1},{"s":"Cr³⁺","x":640,"y":0},{"s":"Cr³⁺","x":750,"y":0},
 {"s":"Hg²⁺","x":388,"y":0},{"s":"Hg²⁺","x":395,"y":1},{"s":"Hg²⁺","x":400,"y":3},{"s":"Hg²⁺","x":405,"y":5},{"s":"Hg²⁺","x":410,"y":9},{"s":"Hg²⁺","x":415,"y":14},{"s":"Hg²⁺","x":420,"y":18},{"s":"Hg²⁺","x":427,"y":22},{"s":"Hg²⁺","x":435,"y":25},{"s":"Hg²⁺","x":443,"y":25},{"s":"Hg²⁺","x":452,"y":25},{"s":"Hg²⁺","x":465,"y":22},{"s":"Hg²⁺","x":480,"y":17},{"s":"Hg²⁺","x":495,"y":13},{"s":"Hg²⁺","x":510,"y":9},{"s":"Hg²⁺","x":530,"y":5},{"s":"Hg²⁺","x":555,"y":2},{"s":"Hg²⁺","x":590,"y":1},{"s":"Hg²⁺","x":640,"y":0},{"s":"Hg²⁺","x":750,"y":0}
 ],
 "f":[{"ion":"Blank","qy":27.2},{"ion":"Mn²⁺","qy":42.2},{"ion":"Cu²⁺","qy":12.3},{"ion":"Ag⁺","qy":27.1},{"ion":"Co²⁺","qy":26.1},{"ion":"Cr³⁺","qy":3.4},{"ion":"Al³⁺","qy":4.3},{"ion":"Mg²⁺","qy":25.9},{"ion":"Ni²⁺","qy":28.5},{"ion":"Pb²⁺","qy":13.9},{"ion":"Zn²⁺","qy":26.7},{"ion":"Ba²⁺","qy":29.6},{"ion":"Fe²⁺","qy":22.6},{"ion":"Cd²⁺","qy":18.3},{"ion":"Fe³⁺","qy":20.4},{"ion":"Ca²⁺","qy":27.6},{"ion":"Hg²⁺","qy":16.6}]
},
"columns":2,
"spacing":{"row":40,"column":90},
"bounds":"flush",
"resolve":{"scale":{"x":"independent","y":"independent","color":"independent"},"legend":{"color":"independent"},"axis":{"x":"independent","y":"independent"}},
"concat":[
  {"width":217,"height":157,
   "title":{"text":"(a)","dx":-25,"dy":15},
   "layer":[
    {"data":{"name":"a"},"transform":[{"filter":"datum.k=='abs'"}],
     "mark":{"type":"line","strokeWidth":2.5},
     "encoding":{"x":{"field":"x","type":"quantitative","scale":{"domain":[200,655],"nice":false},"axis":{"values":[200,300,400,500,600],"title":"Wavelength(nm)"}},
      "y":{"field":"y","type":"quantitative","scale":{"domain":[0,1005],"nice":false},"axis":{"title":"Absorption(a.u.)","labels":false,"ticks":false,"titlePadding":12}},
      "color":{"field":"s","type":"nominal","scale":{"domain":["Without Mn","With Mn"],"range":["black","red"]},"legend":{"legendX":136,"legendY":1.5,"symbolStrokeWidth":3,"symbolSize":144,"rowPadding":-2}},
      "detail":{"field":"k"}}},
    {"data":{"name":"a"},"transform":[{"filter":"datum.k!='abs'"}],
     "mark":{"type":"line","strokeWidth":1.2},
     "encoding":{"x":{"field":"x","type":"quantitative"},
      "y":{"field":"y","type":"quantitative","axis":{"orient":"right","values":[0,300,600,900],"title":"PL intensity(a.u.)","titleAngle":-90,"titleBaseline":"top","titlePadding":5}},
      "color":{"field":"s","type":"nominal"},
      "detail":{"field":"k"}}},
    {"data":{"name":"ann"},"mark":{"type":"text","fontSize":10,"font":"Liberation Sans","color":"black"},
     "encoding":{"x":{"field":"x","type":"quantitative","axis":null},"y":{"field":"y","type":"quantitative","axis":null},"text":{"field":"t"}}}
   ],
   "resolve":{"axis":{"y":"independent"}}},
  {"width":208,"height":157,
   "title":{"text":"(b)","dx":-41,"dy":20},
   "data":{"name":"b"},
   "mark":{"type":"line","strokeWidth":1.3},
   "encoding":{"x":{"field":"x","type":"quantitative","scale":{"domain":[350,700],"nice":false},"axis":{"values":[400,500,600,700],"title":"Wavelength(nm)"}},
    "y":{"field":"y","type":"quantitative","scale":{"domain":[0,1004],"nice":false},"axis":{"values":[0,300,600,900],"title":"PL Intensity(a.u.)","titlePadding":10}},
    "color":{"field":"s","type":"nominal","scale":{"domain":["350 nm","360 nm","370 nm","380 nm","390 nm","400 nm"],"range":["#ff0000","#2040ff","#0a9a6a","#c040d8","#4d7a10","#000090"]},"legend":{"legendX":137,"legendY":5.5,"symbolSize":121,"rowPadding":-0.6}}}},
  {"width":216,"height":152,
   "title":{"text":"(c)","dx":-39,"dy":21},
   "data":{"name":"c"},
   "mark":{"type":"line","strokeWidth":1.3},
   "encoding":{"x":{"field":"x","type":"quantitative","scale":{"domain":[355,742],"nice":false},"axis":{"values":[400,500,600,700],"title":"Wavelength(nm)"}},
    "y":{"field":"y","type":"quantitative","scale":{"domain":[0,1026],"nice":false},"axis":{"values":[0,300,600,900],"title":"PL Intensity(a.u.)","titlePadding":7}},
    "color":{"field":"s","type":"nominal","scale":{"domain":["0 mol/L","1×10⁻³ mol/L","2×10⁻³ mol/L","3×10⁻³ mol/L","4×10⁻³ mol/L"],"range":["#ff0000","#3040c0","#109870","#d050d0","#5a8a40"]},"legend":{"legendX":119,"legendY":4,"symbolSize":100,"rowPadding":1.2,"labelOffset":8}}}},
  {"width":214,"height":150,
   "title":{"text":"(d)","dx":-32,"dy":21},
   "data":{"name":"d"},
   "layer":[
    {"mark":{"type":"line","color":"black","strokeWidth":1.3,"interpolate":"linear"},
     "encoding":{"x":{"field":"x","type":"quantitative","scale":{"domain":[-0.5,4.5],"nice":false},"axis":{"values":[0,1,2,3,4],"title":"C(Mn²⁺)10⁻³ mol/L"}},
      "y":{"field":"y","type":"quantitative","scale":{"domain":[25,44.6],"nice":false,"zero":false},"axis":{"values":[25,30,35,40],"title":"QY(%)","titlePadding":7}}}},
    {"mark":{"type":"point","shape":"square","filled":true,"color":"black","size":45,"opacity":1},
     "encoding":{"x":{"field":"x","type":"quantitative"},"y":{"field":"y","type":"quantitative"}}}
   ]},
  {"width":216,"height":163,
   "title":{"text":"(e)","dx":-41,"dy":16},
   "data":{"name":"e"},
   "mark":{"type":"line","strokeWidth":1.3},
   "encoding":{"x":{"field":"x","type":"quantitative","scale":{"domain":[376,750],"nice":false},"axis":{"values":[400,500,600,700],"title":"Wavelength(nm)"}},
    "y":{"field":"y","type":"quantitative","scale":{"domain":[0,1029],"nice":false},"axis":{"values":[0,200,400,600,800],"title":"PL Intensity(a.u.)","titlePadding":9,"labelPadding":4}},
    "color":{"field":"s","type":"nominal","scale":{"domain":["No ions","Mn²⁺","Cu²⁺","Ag⁺","Co²⁺","Cr³⁺","Al³⁺","Mg²⁺","Ni²⁺","Pb²⁺","Zn²⁺","Ba²⁺","Fe²⁺","Cd²⁺","Fe³⁺","Ca²⁺","Hg²⁺"],"range":["#000000","#ff0000","#70ff40","#3050c0","#60ff90","#c050c0","#f0f000","#2e6b00","#000090","#7040f0","#6a2a1a","#208a20","#108a5a","#ff8860","#3030ff","#ff1090","#d0c8e0"]},"legend":{"legendX":107,"legendY":5,"columns":2,"symbolSize":121,"columnPadding":-4,"rowPadding":2.4}}}},
  {"width":215,"height":158,
   "title":{"text":"(f)","dx":-33,"dy":22},
   "data":{"name":"f"},
   "mark":{"type":"bar","color":"#ff0000","stroke":"#a00000","strokeWidth":0.6},
   "encoding":{"x":{"field":"ion","type":"nominal","sort":null,"scale":{"paddingInner":0.2,"paddingOuter":0.1},"axis":{"title":null,"labelAngle":-45}},
    "y":{"field":"qy","type":"quantitative","scale":{"domain":[0,46.8],"nice":false},"axis":{"values":[0,10,20,30,40],"title":"QY(%)","titlePadding":1,"labelPadding":6}}}}
]
}
